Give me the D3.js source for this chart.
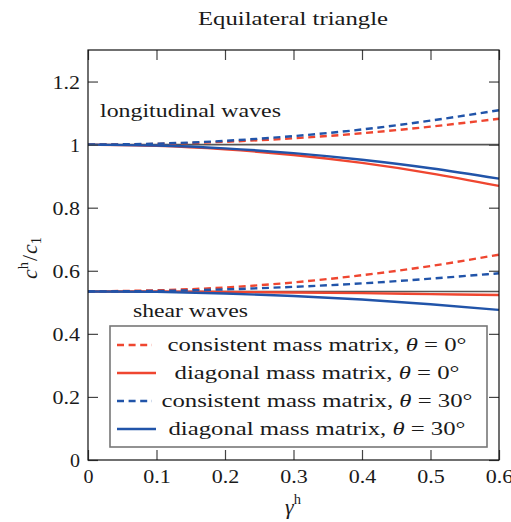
<!DOCTYPE html>
<html>
<head>
<meta charset="utf-8">
<script src="https://cdn.jsdelivr.net/npm/d3@7"></script>
<style>
  body { margin: 0; background: #fff; }
  svg text { font-family: "Liberation Serif", "DejaVu Serif", serif; fill: #1a1a1a; }
</style>
</head>
<body>
<svg id="chart" width="511" height="522"></svg>
<script>
// Normalised wave speed c^h/c_1 against the dimensionless mesh size gamma^h
const gamma = [0, 0.1, 0.2, 0.3, 0.4, 0.5, 0.6];

// longitudinal branch
const longConsistent0  = [1.000, 1.002, 1.009, 1.020, 1.036, 1.057, 1.082];
const longConsistent30 = [1.000, 1.003, 1.012, 1.027, 1.048, 1.076, 1.109];
const longDiagonal0    = [1.000, 0.996, 0.985, 0.967, 0.942, 0.909, 0.869];
const longDiagonal30   = [1.000, 0.997, 0.988, 0.973, 0.952, 0.925, 0.892];

// shear branch
const shearConsistent0  = [0.5345, 0.538, 0.547, 0.563, 0.586, 0.615, 0.651];
const shearConsistent30 = [0.5345, 0.536, 0.541, 0.549, 0.560, 0.575, 0.592];
const shearDiagonal0    = [0.5345, 0.5342, 0.533, 0.531, 0.529, 0.526, 0.523];
const shearDiagonal30   = [0.5345, 0.533, 0.528, 0.520, 0.509, 0.494, 0.476];

// exact (continuum) speeds
const exactSpeeds = [1, 0.5345];

const xTicks = [0, 0.1, 0.2, 0.3, 0.4, 0.5, 0.6];
const yTicks = [0, 0.2, 0.4, 0.6, 0.8, 1, 1.2];

const legendLabels = [
  "consistent mass matrix, ",
  "diagonal mass matrix, ",
  "consistent mass matrix, ",
  "diagonal mass matrix, "
];
const legendAngles = ["0°", "0°", "30°", "30°"];

const RED = "#ef4630", BLUE = "#2154a9";

const series = [
  { vals: longConsistent0,  color: RED,  dashed: true },
  { vals: longDiagonal0,    color: RED,  dashed: false },
  { vals: longConsistent30, color: BLUE, dashed: true },
  { vals: longDiagonal30,   color: BLUE, dashed: false },
  { vals: shearConsistent0,  color: RED,  dashed: true },
  { vals: shearDiagonal0,    color: RED,  dashed: false },
  { vals: shearConsistent30, color: BLUE, dashed: true },
  { vals: shearDiagonal30,   color: BLUE, dashed: false }
];
const legendStyles = [
  { color: RED, dashed: true }, { color: RED, dashed: false },
  { color: BLUE, dashed: true }, { color: BLUE, dashed: false }
];

const margin = { left: 88, right: 12, top: 50, bottom: 62 };
const W = 511, H = 522;
const svg = d3.select("#chart");

const x = d3.scaleLinear().domain([0, 0.6]).range([margin.left, W - margin.right]);
const y = d3.scaleLinear().domain([0, 1.3]).range([H - margin.bottom, margin.top]);

const DASH = "7,4.6";

// widen the serif face to the proportions of a Computer Modern style setting
function fit(sel, width) {
  return sel.attr("textLength", width).attr("lengthAdjust", "spacingAndGlyphs");
}

// reference lines
svg.selectAll("line.exact").data(exactSpeeds).join("line")
  .attr("class", "exact")
  .attr("x1", x(0)).attr("x2", x(0.6))
  .attr("y1", d => y(d)).attr("y2", d => y(d))
  .attr("stroke", "#555").attr("stroke-width", 1.6);

// curves
const line = d3.line().x((d, i) => x(gamma[i])).y(d => y(d)).curve(d3.curveNatural);
svg.selectAll("path.curve").data(series).join("path")
  .attr("class", "curve")
  .attr("d", d => line(d.vals))
  .attr("fill", "none")
  .attr("stroke", d => d.color)
  .attr("stroke-width", 2.4)
  .attr("stroke-dasharray", d => d.dashed ? DASH : null);

// axes with inward ticks on all sides
const tickLen = 10;
const fmt = d => (d === 0 || d === 1) ? String(d) : d3.format(".1f")(d);
const axB = svg.append("g").attr("transform", `translate(0,${y(0)})`)
  .call(d3.axisBottom(x).tickValues(xTicks).tickSize(-tickLen).tickPadding(8).tickFormat(fmt));
const axT = svg.append("g").attr("transform", `translate(0,${y(1.3)})`)
  .call(d3.axisTop(x).tickValues(xTicks).tickSize(-tickLen).tickFormat(""));
const axL = svg.append("g").attr("transform", `translate(${x(0)},0)`)
  .call(d3.axisLeft(y).tickValues(yTicks).tickSize(-tickLen).tickPadding(8).tickFormat(fmt));
const axR = svg.append("g").attr("transform", `translate(${x(0.6)},0)`)
  .call(d3.axisRight(y).tickValues(yTicks).tickSize(-tickLen).tickFormat(""));

[axB, axT, axL, axR].forEach(g => {
  g.select(".domain").remove();
  g.selectAll(".tick line").attr("stroke", "#444").attr("stroke-width", 1.2);
  g.selectAll(".tick text").attr("font-size", 19)
    .attr("font-family", "Liberation Serif, serif").attr("fill", "#1a1a1a")
    .each(function (d) { fit(d3.select(this), String(fmt(d)).length === 1 ? 10 : 27.5); });
});
axB.selectAll(".tick text").attr("y", 0).attr("dy", 23);
axL.selectAll(".tick text").attr("dy", "0.34em");

// frame
svg.append("rect")
  .attr("x", x(0)).attr("y", y(1.3))
  .attr("width", x(0.6) - x(0)).attr("height", y(0) - y(1.3))
  .attr("fill", "none").attr("stroke", "#111").attr("stroke-width", 1.2);

// title
fit(svg.append("text").attr("x", 293).attr("y", 25)
  .attr("text-anchor", "middle").attr("font-size", 19.5).text("Equilateral triangle"), 190);

// annotations
fit(svg.append("text").attr("x", 100).attr("y", 117).attr("font-size", 19.5)
  .text("longitudinal waves"), 181);
fit(svg.append("text").attr("x", 133).attr("y", 317).attr("font-size", 19.5)
  .text("shear waves"), 115);

// axis titles
const xl = svg.append("text").attr("x", 293).attr("y", 514)
  .attr("text-anchor", "middle").attr("font-size", 22);
xl.append("tspan").attr("font-style", "italic").text("γ");
xl.append("tspan").attr("font-size", 14.5).attr("dy", -10).text("h");

const yl = svg.append("text")
  .attr("transform", `translate(37,258) rotate(-90)`)
  .attr("text-anchor", "middle").attr("font-size", 22);
yl.append("tspan").attr("font-style", "italic").text("c");
yl.append("tspan").attr("font-size", 14.5).attr("dy", -9).text("h");
yl.append("tspan").attr("dy", 9).attr("dx", 1).text("/");
yl.append("tspan").attr("font-style", "italic").attr("dx", 1).text("c");
yl.append("tspan").attr("font-size", 14.5).attr("dy", 4).text("1");

// legend
const lg = svg.append("g");
lg.append("rect").attr("x", 110).attr("y", 326).attr("width", 377).attr("height", 121)
  .attr("fill", "#fff").attr("stroke", "#777").attr("stroke-width", 1.6);
const rowY = [345, 373, 401, 429];
const rowWidth = [299, 285, 311, 297];
legendStyles.forEach((s, i) => {
  lg.append("line")
    .attr("x1", 117).attr("x2", s.dashed ? 152 : 156)
    .attr("y1", rowY[i]).attr("y2", rowY[i])
    .attr("stroke", s.color).attr("stroke-width", 2.4)
    .attr("stroke-dasharray", s.dashed ? DASH : null);
  const t = lg.append("text").attr("x", 317).attr("y", rowY[i] + 6)
    .attr("text-anchor", "middle").attr("font-size", 19.5);
  t.append("tspan").text(legendLabels[i]);
  t.append("tspan").attr("font-style", "italic").text("θ");
  t.append("tspan").text(" = " + legendAngles[i]);
  fit(t, rowWidth[i]);
});
</script>
</body>
</html>
